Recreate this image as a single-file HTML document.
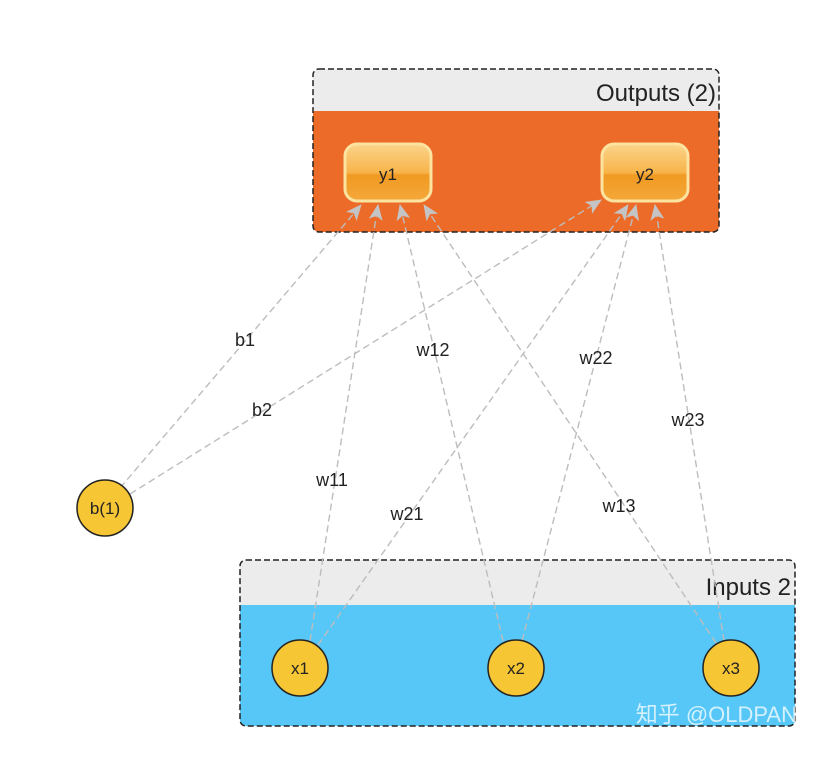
<!DOCTYPE html>
<html><head><meta charset="utf-8"><style>
body{margin:0;background:#fff;}
svg{display:block;font-family:"Liberation Sans","Noto Sans CJK SC",sans-serif;}
</style></head><body>
<svg width="838" height="774" viewBox="0 0 838 774">
<defs>
<marker id="a" markerWidth="16" markerHeight="14" refX="15" refY="7" orient="auto" markerUnits="userSpaceOnUse">
<path d="M0,0 L16,7 L0,14 L4,7 z" fill="#c4c4c4"/></marker>
<linearGradient id="g" x1="0" y1="0" x2="0" y2="1">
<stop offset="0" stop-color="#fbd48a"/><stop offset="0.5" stop-color="#f7b44a"/><stop offset="0.55" stop-color="#f09a22"/><stop offset="1" stop-color="#f4a83a"/></linearGradient>
</defs>
<rect x="313" y="69" width="406" height="163" rx="6" fill="#ececec"/>
<path d="M313,111 H719 V226 a6,6 0 0 1 -6,6 H319 a6,6 0 0 1 -6,-6 Z" fill="#ec6b29"/>
<rect x="313" y="69" width="406" height="163" rx="6" fill="none" stroke="#222" stroke-width="1.5" stroke-dasharray="6,3"/>
<text x="716" y="101" font-size="24" text-anchor="end" fill="#222">Outputs (2)</text>
<rect x="345" y="144" width="86" height="57" rx="12" fill="url(#g)" stroke="#fce3a0" stroke-width="3"/>
<rect x="602" y="144" width="86" height="57" rx="12" fill="url(#g)" stroke="#fce3a0" stroke-width="3"/>
<text x="388" y="180" font-size="17" text-anchor="middle" fill="#222">y1</text>
<text x="645" y="180" font-size="17" text-anchor="middle" fill="#222">y2</text>
<rect x="240" y="560" width="555" height="166" rx="6" fill="#ececec"/>
<path d="M240,605 H795 V720 a6,6 0 0 1 -6,6 H246 a6,6 0 0 1 -6,-6 Z" fill="#56c7f7"/>
<rect x="240" y="560" width="555" height="166" rx="6" fill="none" stroke="#222" stroke-width="1.5" stroke-dasharray="6,3"/>
<text x="791" y="595" font-size="24" text-anchor="end" fill="#222">Inputs 2</text>
<g stroke="#bdbdbd" stroke-width="1.4" stroke-dasharray="7,4" fill="none" marker-end="url(#a)">
<line x1="120" y1="488" x2="361" y2="205"/>
<line x1="130" y1="494" x2="601" y2="200"/>
<line x1="310" y1="641" x2="378" y2="205"/>
<line x1="318" y1="645" x2="628" y2="205"/>
<line x1="503" y1="641" x2="400" y2="205"/>
<line x1="522" y1="641" x2="636" y2="205"/>
<line x1="716" y1="643" x2="424" y2="205"/>
<line x1="724" y1="641" x2="655" y2="205"/>
</g>
<g fill="#f7c634" stroke="#222" stroke-width="1.5">
<circle cx="105" cy="508" r="28"/>
<circle cx="300" cy="668" r="28"/>
<circle cx="516" cy="668" r="28"/>
<circle cx="731" cy="668" r="28"/>
</g>
<g font-size="17" text-anchor="middle" fill="#222">
<text x="105" y="514">b(1)</text>
<text x="300" y="674">x1</text>
<text x="516" y="674">x2</text>
<text x="731" y="674">x3</text>
</g>
<g font-size="18" text-anchor="middle" fill="#222">
<text x="245" y="346">b1</text>
<text x="262" y="416">b2</text>
<text x="332" y="486">w11</text>
<text x="433" y="356">w12</text>
<text x="407" y="520">w21</text>
<text x="596" y="364">w22</text>
<text x="619" y="512">w13</text>
<text x="688" y="426">w23</text>
</g>
<text x="797" y="722" font-size="22" text-anchor="end" fill="#fff" fill-opacity="0.75">知乎 @OLDPAN</text>
</svg>
</body></html>
